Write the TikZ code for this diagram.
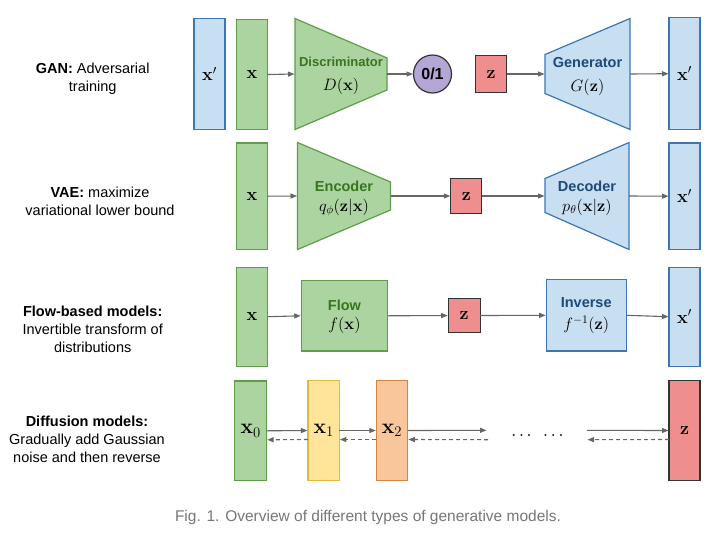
\RequirePackage{fix-cm}
\documentclass[tikz,border=0pt]{standalone}
\usepackage[no-math]{fontspec}
\setmainfont{Liberation Sans}
\usetikzlibrary{arrows.meta,calc}
\definecolor{gfill}{HTML}{ACD4A0}
\definecolor{gdraw}{HTML}{5E9E48}
\definecolor{gtext}{HTML}{38761D}
\definecolor{bfill}{HTML}{C8DFF2}
\definecolor{bdraw}{HTML}{3A77B3}
\definecolor{btext}{HTML}{1C4A7A}
\definecolor{rfill}{HTML}{EE8E8E}
\definecolor{pfill}{HTML}{B4A7D6}
\definecolor{yfill}{HTML}{FFE599}
\definecolor{ydraw}{HTML}{E6B83A}
\definecolor{ofill}{HTML}{F9C59A}
\definecolor{odraw}{HTML}{D9843E}
\definecolor{arrcol}{HTML}{666666}
\definecolor{capcol}{HTML}{777777}
\definecolor{kdraw}{HTML}{333333}
\begin{document}
\begin{tikzpicture}[x=1pt,y=-1pt,
  every node/.style={inner sep=0pt, outer sep=0pt},
  blk/.style={draw, line width=1.2pt, minimum width=31pt},
  gbox/.style={blk, fill=gfill, draw=gdraw},
  bbox/.style={blk, fill=bfill, draw=bdraw},
  rbox/.style={blk, fill=rfill, draw=kdraw},
  ybox/.style={blk, fill=yfill, draw=ydraw},
  obox/.style={blk, fill=ofill, draw=odraw},
  gtrap/.style={fill=gfill, draw=gdraw, line width=1.2pt, line join=miter},
  btrap/.style={fill=bfill, draw=bdraw, line width=1.2pt, line join=miter},
  vlab/.style={font=\fontsize{18}{20}\selectfont},
  dlab/.style={font=\fontsize{21}{24}\selectfont},
  fmath/.style={font=\fontsize{16.5}{19}\selectfont},
  gname/.style={font=\fontsize{14.5}{17}\selectfont\bfseries, text=gtext},
  bname/.style={font=\fontsize{14.5}{17}\selectfont\bfseries, text=btext},
  side/.style={font=\fontsize{14.5}{18}\selectfont, align=center},
  arr/.style={draw=arrcol, line width=1.1pt, -{Triangle[length=6.5pt,width=5pt]}, shorten >=0.5pt},
  darr/.style={arr, dash pattern=on 4pt off 3pt}
]
\useasboundingbox (0,0) rectangle (709,539);
\fill[white] (0,0) rectangle (709,539);

% ---------- left labels
\node[side] (lgan) at (92.7,78.3) {\textbf{GAN:} Adversarial\\training};
\node[side] (lvae) at (100,201.7) {\textbf{VAE:} maximize\\variational lower bound};
\node[side] (lflow) at (92.7,329.2) {\textbf{Flow-based models:}\\Invertible transform of\\distributions};
\node[side] (ldiff) at (87,439.7) {\textbf{Diffusion models:}\\Gradually add Gaussian\\noise and then reverse};

% ---------- GAN row
\node[bbox, minimum height=111pt, vlab] (gxp) at (209.5,74) {$\mathbf{x}'$};
\node[gbox, minimum height=110pt, vlab] (gx) at (252,74.5) {$\mathbf{x}$};
\draw[gtrap] (295,18.5) -- (387,58) -- (387,90) -- (295,129.5) -- cycle;
\coordinate (discL) at (295,74);
\coordinate (discR) at (387,74);
\node[gname, font=\fontsize{13}{15}\selectfont\bfseries] (discn) at (341,62.3) {Discriminator};
\node[fmath] (discf) at (341,86) {$D(\mathbf{x})$};
\node[circle, draw=kdraw, fill=pfill, line width=1.2pt, minimum size=38pt,
      font=\fontsize{16}{18}\selectfont\bfseries] (c01) at (432.5,74) {0/1};
\node[rbox, minimum width=31pt, minimum height=37pt, vlab] (gz) at (491,74) {$\mathbf{z}$};
\draw[btrap] (545,54.5) -- (630,18.5) -- (630,129.5) -- (545,93.5) -- cycle;
\coordinate (genL) at (545,74);
\coordinate (genR) at (630,74);
\node[bname] (genn) at (587.5,62.3) {Generator};
\node[fmath] (genf) at (587.5,87.3) {$G(\mathbf{z})$};
\node[bbox, minimum height=112pt, vlab] (gxo) at (684.5,73.7) {$\mathbf{x}'$};
\draw[arr] (gx.east) -- (discL);
\draw[arr] (discR) -- (c01.west);
\draw[arr] (gz.east) -- (genL);
\draw[arr] (genR) -- (gxo.west);

% ---------- VAE row
\node[gbox, minimum height=106.5pt, vlab] (vx) at (252,196.2) {$\mathbf{x}$};
\draw[gtrap] (297.5,142.5) -- (390.5,182) -- (390.5,210) -- (297.5,249.5) -- cycle;
\coordinate (encL) at (297.5,196);
\coordinate (encR) at (390.5,196);
\node[gname] (encn) at (344,186) {Encoder};
\node[fmath] (encf) at (344,207.3) {$q_\phi(\mathbf{z}|\mathbf{x})$};
\node[rbox, minimum height=35.5pt, vlab] (vz) at (466.3,196) {$\mathbf{z}$};
\draw[btrap] (545,178.5) -- (629,142.5) -- (629,249.5) -- (545,212.5) -- cycle;
\coordinate (decL) at (545,196);
\coordinate (decR) at (629,196);
\node[bname] (decn) at (587,186.7) {Decoder};
\node[fmath] (decf) at (587,207.3) {$p_\theta(\mathbf{x}|\mathbf{z})$};
\node[bbox, minimum height=106.5pt, vlab] (vxo) at (684.5,196.2) {$\mathbf{x}'$};
\draw[arr] (vx.east) -- (encL);
\draw[arr] (encR) -- (vz.west);
\draw[arr] (vz.east) -- (decL);
\draw[arr] (decR) -- (vxo.west);

% ---------- Flow row
\node[gbox, minimum height=99pt, vlab] (fx) at (252,316.7) {$\mathbf{x}$};
\node[gbox, minimum width=86.5pt, minimum height=70.5pt] (flow) at (344.5,315.8) {};
\node[gname] (flown) at (344.5,305) {Flow};
\node[fmath] (flowf) at (344.5,325) {$f(\mathbf{x})$};
\node[rbox, minimum width=32pt, minimum height=33.5pt, vlab] (fz) at (464.2,315.5) {$\mathbf{z}$};
\node[bbox, minimum width=80pt, minimum height=71.5pt] (inv) at (586.2,315.3) {};
\node[bname] (invn) at (586.2,302.3) {Inverse};
\node[fmath] (invf) at (586.2,325) {$f^{-1}(\mathbf{z})$};
\node[bbox, minimum height=99pt, vlab] (fxo) at (684.5,316.7) {$\mathbf{x}'$};
\draw[arr] (fx.east) -- (flow.west);
\draw[arr] (flow.east) -- (fz.west);
\draw[arr] (fz.east) -- (inv.west);
\draw[arr] (inv.east) -- (fxo.west);

% ---------- Diffusion row
\node[gbox, minimum width=32pt, minimum height=99.5pt, dlab] (x0) at (250.7,430.8) {$\mathbf{x}_0$};
\node[ybox, minimum width=31.5pt, minimum height=100pt, dlab] (x1) at (323.7,430.5) {$\mathbf{x}_1$};
\node[obox, minimum width=31.5pt, minimum height=100pt, dlab] (x2) at (392,430.5) {$\mathbf{x}_2$};
\node[rbox, minimum width=31pt, minimum height=100pt, vlab] (dz) at (684.5,430.5) {$\mathbf{z}$};
\node[font=\fontsize{20}{22}\selectfont] (dots) at (537.5,436) {$\mathbf{.\mkern2mu.\mkern2mu.\;\;.\mkern2mu.\mkern2mu.}$};
\coordinate (d1) at (487,430.3);
\coordinate (d2) at (587,430.3);
\coordinate (d1b) at (488,439.7);
\coordinate (d2b) at (587,439.7);
\draw[arr] (x0.east) -- (x1.west);
\draw[arr] (x1.east) -- (x2.west);
\draw[arr] (x2.east) -- (d1);
\draw[arr] (d2) -- (dz.west);
\draw[darr] ($(x1.west)+(0,9)$) -- ($(x0.east)+(0,9)$);
\draw[darr] ($(x2.west)+(0,9)$) -- ($(x1.east)+(0,9)$);
\draw[darr] (d1b) -- ($(x2.east)+(0,9)$);
\draw[darr] ($(dz.west)+(0,9)$) -- (d2b);

% ---------- caption
\node[font=\fontsize{15.5}{18}\selectfont, text=capcol] (cap) at (368,517.5) {Fig. 1. Overview of different types of generative models.};
\end{tikzpicture}
\end{document}
